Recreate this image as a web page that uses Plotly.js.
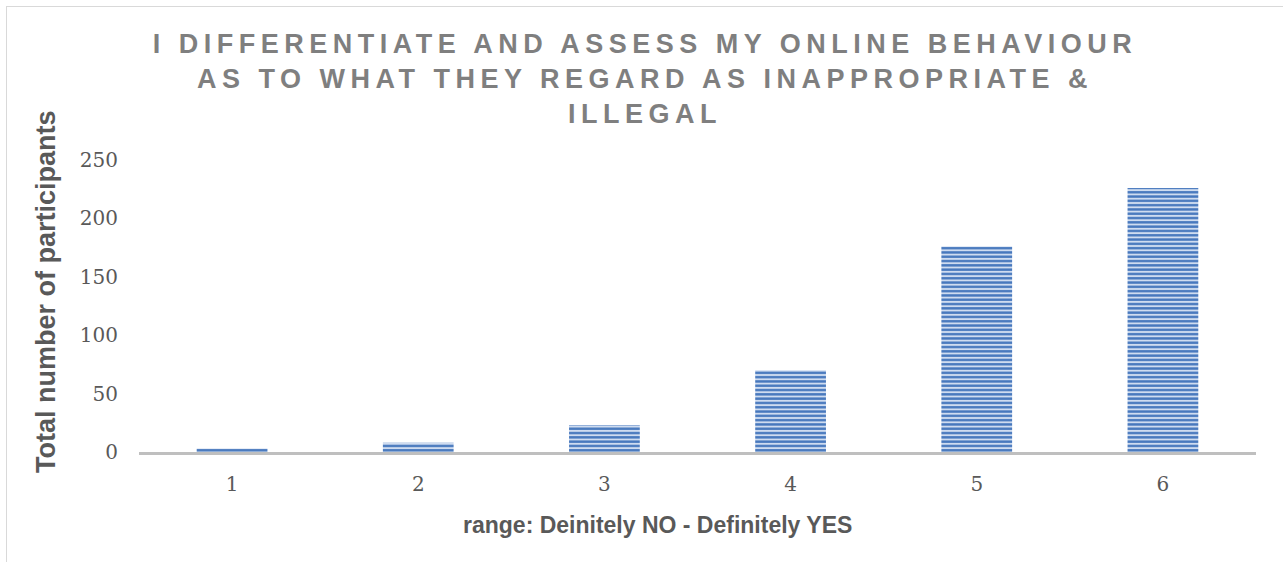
<!DOCTYPE html>
<html>
<head>
<meta charset="utf-8">
<script src="https://cdn.plot.ly/plotly-3.0.1.min.js"></script>
<style>
  html, body { margin: 0; padding: 0; background: #ffffff; overflow: hidden; }
  #frame { position: absolute; left: 6px; top: 6px; width: 1400px; height: 700px;
           border-left: 1.5px solid #d9d9d9; border-top: 1.5px solid #d9d9d9; pointer-events: none; }
  #chart { position: absolute; left: 0; top: 0; width: 1283px; height: 562px; }
  .gtitle { letter-spacing: 5.5px; }
</style>
</head>
<body>
<div id="chart"></div>
<div id="frame"></div>
<script>
// ---- data ----
const categories = ['1', '2', '3', '4', '5', '6'];
const participants = [3, 8, 23, 70, 176, 226];
const yTickValues = [0, 50, 100, 150, 200, 250];

const titleLines = [
  'I DIFFERENTIATE AND ASSESS MY ONLINE BEHAVIOUR',
  'AS TO WHAT THEY REGARD AS INAPPROPRIATE &amp;',
  'ILLEGAL'
];
const xTitle = 'range: Deinitely NO - Definitely YES';
const yTitle = 'Total number of participants';

const W = 1283, H = 562;

const trace = {
  type: 'bar',
  x: categories,
  y: participants,
  marker: {
    color: '#c9d9ef',
    line: { width: 0 },
    pattern: {
      shape: '-',
      fgcolor: '#4677bd',
      bgcolor: '#cfdcf0',
      size: 4.3,
      solidity: 0.55
    }
  },
  hoverinfo: 'x+y'
};

const layout = {
  width: W,
  height: H,
  margin: { l: 139, r: 27, t: 160, b: 110, pad: 0 },
  paper_bgcolor: 'rgba(0,0,0,0)',
  plot_bgcolor: 'rgba(0,0,0,0)',
  showlegend: false,
  bargap: 0.62,
  title: {
    text: titleLines.join('<br>'),
    font: { family: 'Liberation Sans, Arial, sans-serif', size: 27, color: '#7f7f7f', weight: 'bold' },
    x: 645 / W,
    xanchor: 'center',
    xref: 'container',
    yref: 'container',
    y: 1 - 53 / H,
    yanchor: 'top'
  },
  xaxis: {
    type: 'category',
    showline: true,
    linecolor: '#bfbfbf',
    linewidth: 3,
    showgrid: false,
    zeroline: false,
    ticks: '',
    ticklabelstandoff: 12,
    tickfont: { family: 'DejaVu Serif, serif', size: 20, color: '#595959' },
    fixedrange: true
  },
  yaxis: {
    range: [0, 250],
    tickvals: yTickValues,
    ticktext: yTickValues.map(String),
    showline: false,
    showgrid: false,
    zeroline: false,
    ticks: '',
    ticklabelstandoff: 20,
    tickfont: { family: 'DejaVu Serif, serif', size: 20, color: '#595959' },
    fixedrange: true
  },
  annotations: [
    {
      text: yTitle,
      xref: 'paper', yref: 'paper',
      x: (46 - 139) / (W - 139 - 27),
      y: (452 - 292) / 292,
      xanchor: 'center', yanchor: 'middle',
      textangle: -90,
      showarrow: false,
      font: { family: 'Liberation Sans, Arial, sans-serif', size: 27, color: '#595959', weight: 'bold' }
    },
    {
      text: xTitle,
      xref: 'paper', yref: 'paper',
      x: (657 - 139) / (W - 139 - 27),
      y: -(525 - 452) / 292,
      xanchor: 'center', yanchor: 'middle',
      showarrow: false,
      font: { family: 'Liberation Sans, Arial, sans-serif', size: 23, color: '#595959', weight: 'bold' }
    }
  ]
};

Plotly.newPlot('chart', [trace], layout, { displayModeBar: false, staticPlot: true });
</script>
</body>
</html>
